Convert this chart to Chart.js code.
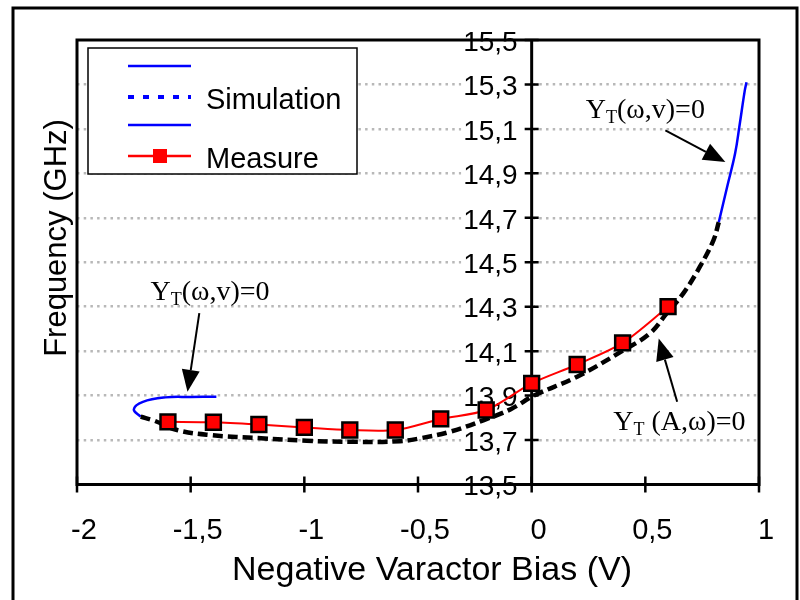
<!DOCTYPE html>
<html>
<head>
<meta charset="utf-8">
<script src="https://cdn.jsdelivr.net/npm/chart.js@4.4.1/dist/chart.umd.min.js"></script>
<style>
  html, body { margin: 0; padding: 0; background: #fff; }
</style>
</head>
<body>
<canvas id="FreqChart" width="800" height="600"></canvas>
<script>
// measured oscillation frequency vs bias
const measureBias = [-1.6, -1.4, -1.2, -1.0, -0.8, -0.6, -0.4, -0.2, 0, 0.2, 0.4, 0.6];
const measureFreq = [13.782, 13.78, 13.77, 13.757, 13.745, 13.745, 13.795, 13.835, 13.955, 14.04, 14.137, 14.30];

// simulation, left branch YT(w,v)=0 (blue)
const simLeftBias = [-1.387, -1.5, -1.61, -1.71, -1.75, -1.72];
const simLeftFreq = [13.895, 13.894, 13.892, 13.872, 13.838, 13.805];

// simulation, YT(A,w)=0 (dashed)
const simMidBias = [-1.72, -1.66, -1.56, -1.41, -1.19, -0.99, -0.78, -0.58, -0.49, -0.36, -0.21, -0.09, 0.01, 0.2, 0.405, 0.52, 0.594, 0.667, 0.74, 0.80, 0.823];
const simMidFreq = [13.805, 13.787, 13.745, 13.722, 13.708, 13.697, 13.692, 13.695, 13.708, 13.737, 13.79, 13.84, 13.90, 13.985, 14.105, 14.18, 14.27, 14.36, 14.48, 14.60, 14.68];

// simulation, right branch YT(w,v)=0 (blue)
const simRightBias = [0.823, 0.86, 0.895, 0.915, 0.937, 0.945];
const simRightFreq = [14.68, 14.84, 14.99, 15.12, 15.27, 15.31];

const xTicks = [-2, -1.5, -1, -0.5, 0, 0.5, 1];
const yTicks = [13.5, 13.7, 13.9, 14.1, 14.3, 14.5, 14.7, 14.9, 15.1, 15.3, 15.5];

const xTitle = 'Negative Varactor Bias (V)';
const yTitle = 'Frequency (GHz)';

// annotation texts (after the "Y" + subscript "T")
const noteText = ['(\u03c9,v)=0', '(\u03c9,v)=0', ' (A,\u03c9)=0'];

const SANS = '"Liberation Sans", Arial, sans-serif';
const SERIF = '"Liberation Serif", "Times New Roman", serif';

function pts(xs, ys) {
  return xs.map((v, i) => ({x: v, y: ys[i]}));
}
function comma(v, d) {
  return (d == null ? String(v) : v.toFixed(d)).replace('.', ',');
}

// where the notes and arrows sit, in data units
const notes = [
  {at: [-1.415, 14.33], from: [-1.462, 14.271], to: [-1.514, 13.917]},
  {at: [0.50, 15.147], from: [0.588, 15.093], to: [0.852, 14.951]},
  {at: [0.65, 13.745], from: [0.64, 13.872], to: [0.559, 14.157]}
];

const framePlugin = {
  id: 'frame',
  beforeDatasetsDraw(chart) {
    const {ctx, chartArea: a, scales: {x, y}} = chart;
    ctx.save();
    ctx.strokeStyle = '#000';
    ctx.lineWidth = 3;
    ctx.strokeRect(a.left, a.top, a.right - a.left, a.bottom - a.top);
    const x0 = x.getPixelForValue(0);
    ctx.beginPath();
    ctx.moveTo(x0, a.top);
    ctx.lineTo(x0, a.bottom);
    ctx.stroke();
    ctx.lineWidth = 2.5;
    ctx.beginPath();
    y.ticks.forEach(t => {
      const py = y.getPixelForValue(t.value);
      ctx.moveTo(x0 - 7, py);
      ctx.lineTo(x0 + 7, py);
    });
    x.ticks.forEach(t => {
      const px = x.getPixelForValue(t.value);
      ctx.moveTo(px, a.bottom - 8);
      ctx.lineTo(px, a.bottom + 8);
    });
    ctx.stroke();
    ctx.restore();
  },
  afterDraw(chart) {
    const {ctx, chartArea: a} = chart;
    ctx.save();
    // outer picture frame
    ctx.strokeStyle = '#000';
    ctx.lineWidth = 3;
    ctx.strokeRect(13, 8, 784, 600);
    ctx.fillStyle = '#000';
    ctx.textAlign = 'center';
    // x title
    ctx.font = '34px ' + SANS;
    ctx.textBaseline = 'alphabetic';
    ctx.fillText(xTitle, (a.left + a.right) / 2 + 14, 580);
    // y title
    ctx.translate(57, 238);
    ctx.rotate(-Math.PI / 2);
    ctx.font = '31px ' + SANS;
    ctx.textBaseline = 'middle';
    ctx.fillText(yTitle, 0, 0);
    ctx.restore();
  }
};

function drawYT(ctx, rest, cx, by) {
  ctx.font = '28px ' + SERIF;
  const wY = ctx.measureText('Y').width;
  const wR = ctx.measureText(rest).width;
  ctx.font = '18px ' + SERIF;
  const wT = ctx.measureText('T').width;
  let px = cx - (wY + wT + wR) / 2;
  ctx.font = '28px ' + SERIF;
  ctx.fillText('Y', px, by);
  px += wY;
  ctx.font = '18px ' + SERIF;
  ctx.fillText('T', px, by + 5);
  px += wT;
  ctx.font = '28px ' + SERIF;
  ctx.fillText(rest, px, by);
}

function arrow(ctx, x1, y1, x2, y2) {
  const ang = Math.atan2(y2 - y1, x2 - x1);
  const len = 22, half = 9;
  const bx = x2 - len * Math.cos(ang), by = y2 - len * Math.sin(ang);
  ctx.beginPath();
  ctx.moveTo(x1, y1);
  ctx.lineTo(bx, by);
  ctx.stroke();
  ctx.beginPath();
  ctx.moveTo(x2, y2);
  ctx.lineTo(bx + half * Math.sin(ang), by - half * Math.cos(ang));
  ctx.lineTo(bx - half * Math.sin(ang), by + half * Math.cos(ang));
  ctx.closePath();
  ctx.fill();
}

const notePlugin = {
  id: 'notes',
  afterDatasetsDraw(chart) {
    const {ctx, scales: {x, y}} = chart;
    ctx.save();
    ctx.fillStyle = '#000';
    ctx.strokeStyle = '#000';
    ctx.lineWidth = 2;
    ctx.textBaseline = 'alphabetic';
    ctx.textAlign = 'left';
    notes.forEach((n, i) => {
      drawYT(ctx, noteText[i], x.getPixelForValue(n.at[0]), y.getPixelForValue(n.at[1]));
      arrow(ctx, x.getPixelForValue(n.from[0]), y.getPixelForValue(n.from[1]),
                 x.getPixelForValue(n.to[0]), y.getPixelForValue(n.to[1]));
    });
    ctx.restore();
  }
};

// legend: box in the upper left corner, entries follow the original figure
const legendItems = [
  {text: '', color: '#0000ff', width: 2.5, dash: []},
  {text: 'Simulation', color: '#0000ff', width: 4, dash: [6, 9]},
  {text: '', color: '#0000ff', width: 2.5, dash: []},
  {text: 'Measure', color: '#ff0000', width: 2.5, dash: [], marker: true}
];

const legendPlugin = {
  id: 'boxLegend',
  afterDatasetsDraw(chart) {
    const ctx = chart.ctx;
    const rows = [66, 97, 125, 156];
    ctx.save();
    ctx.fillStyle = '#fff';
    ctx.fillRect(88, 48, 269, 126);
    ctx.strokeStyle = '#000';
    ctx.lineWidth = 1.5;
    ctx.strokeRect(88, 48, 269, 126);
    legendItems.forEach((it, i) => {
      const ry = rows[i];
      ctx.strokeStyle = it.color;
      ctx.lineWidth = it.width;
      ctx.setLineDash(it.dash);
      ctx.beginPath();
      ctx.moveTo(128, ry);
      ctx.lineTo(191, ry);
      ctx.stroke();
      ctx.setLineDash([]);
      if (it.marker) {
        ctx.fillStyle = it.color;
        ctx.fillRect(153, ry - 7, 14, 14);
      }
      if (it.text) {
        ctx.fillStyle = '#000';
        ctx.font = '29px ' + SANS;
        ctx.textBaseline = 'middle';
        ctx.fillText(it.text, 206, ry + 4);
      }
    });
    ctx.restore();
  }
};

new Chart('FreqChart', {
  type: 'scatter',
  data: {
    datasets: [
      {
        label: 'Measure',
        data: pts(measureBias, measureFreq),
        showLine: true,
        borderColor: '#ff0000',
        borderWidth: 2,
        pointStyle: 'rect',
        pointRadius: 10.5,
        pointBackgroundColor: '#ff0000',
        pointBorderColor: '#000',
        pointBorderWidth: 2.5,
        tension: 0.3,
        order: 1
      },
      {
        label: '',
        data: pts(simLeftBias, simLeftFreq),
        showLine: true,
        borderColor: '#0000ff',
        borderWidth: 2.5,
        pointRadius: 0,
        tension: 0.4,
        order: 3
      },
      {
        label: 'Simulation',
        data: pts(simMidBias, simMidFreq),
        showLine: true,
        borderColor: '#000',
        borderWidth: 4.5,
        borderDash: [10, 5],
        pointRadius: 0,
        tension: 0.4,
        order: 2
      },
      {
        label: '',
        data: pts(simRightBias, simRightFreq),
        showLine: true,
        borderColor: '#0000ff',
        borderWidth: 2.5,
        pointRadius: 0,
        tension: 0.4,
        order: 3
      }
    ]
  },
  options: {
    responsive: false,
    animation: false,
    devicePixelRatio: 1,
    layout: {padding: {left: 77, right: 41, top: 40, bottom: 0}},
    plugins: {legend: {display: false}, tooltip: {enabled: false}},
    scales: {
      x: {
        type: 'linear',
        min: -2,
        max: 1,
        afterBuildTicks: s => { s.ticks = xTicks.map(v => ({value: v})); },
        afterFit: s => { s.height = 115.5; },
        grid: {display: false},
        border: {display: false},
        ticks: {
          color: '#000',
          font: {family: SANS, size: 29},
          padding: 21,
          labelOffset: 7,
          callback: v => comma(v)
        },
        title: {display: false}
      },
      y: {
        type: 'linear',
        min: 13.5,
        max: 15.5,
        position: {x: 0},
        afterBuildTicks: s => { s.ticks = yTicks.map(v => ({value: v})); },
        border: {display: false, dash: [2.5, 4.2]},
        grid: {
          drawTicks: false,
          lineWidth: 2.5,
          color: c => (c.tick && (c.tick.value === 13.5 || c.tick.value === 15.5)) ? 'rgba(0,0,0,0)' : '#b8b8b8'
        },
        ticks: {
          color: '#000',
          font: {family: SANS, size: 28},
          labelOffset: 3,
          showLabelBackdrop: true,
          backdropColor: '#fff',
          backdropPadding: {x: 2, y: 0},
          callback: v => comma(v, 1) + '\u2002'
        }
      }
    }
  },
  plugins: [framePlugin, notePlugin, legendPlugin]
});
</script>
</body>
</html>
